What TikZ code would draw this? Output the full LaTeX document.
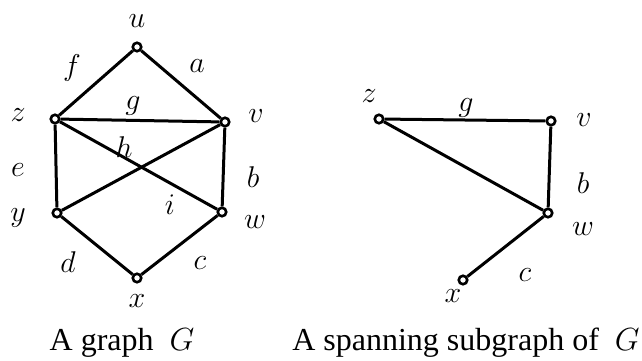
\RequirePackage{fix-cm}
\documentclass[tikz,border=0pt]{standalone}
\usepackage{fontspec}
\setmainfont{Liberation Serif}
\usetikzlibrary{positioning}
\begin{document}
\begin{tikzpicture}[x=1pt, y=-1pt,
        vertex/.style={circle, draw, line width=2.6pt, fill=white, inner sep=0pt, minimum size=8.5pt},
        edge/.style={line width=3pt},
        lbl/.style={inner sep=0pt, font=\fontsize{30}{34}\selectfont},
        caption/.style={inner sep=0pt, font=\fontsize{32}{36}\selectfont}
    ]
        \useasboundingbox (0,0) rectangle (642,361);

        % the graph G
        \node[vertex] (u) at (137,47) {};
        \node[vertex] (z) at (55,119) {};
        \node[vertex] (v) at (225,122) {};
        \node[vertex] (y) at (57,213) {};
        \node[vertex] (w) at (222,212) {};
        \node[vertex] (x) at (137,278) {};

        \foreach \a/\b in {u/z,u/v,z/v,z/y,z/w,v/y,v/w,y/x,w/x} {
            \draw[edge] (\a) -- (\b);
        }

        \node[lbl] (lu) at (137,21) {$u$};
        \node[lbl] (lz) at (18,115) {$z$};
        \node[lbl] (lv) at (256,116) {$v$};
        \node[lbl] (ly) at (18,218) {$y$};
        \node[lbl] (lw) at (255,222) {$w$};
        \node[lbl] (lx) at (137,301) {$x$};

        \node[lbl] (ef) at (72,68) {$f$};
        \node[lbl] (ea) at (197,66) {$a$};
        \node[lbl] (eg) at (133,106) {$g$};
        \node[lbl] (eh) at (124,147) {$h$};
        \node[lbl] (ee) at (18,170) {$e$};
        \node[lbl] (eb) at (253,177) {$b$};
        \node[lbl] (ei) at (170,205) {$i$};
        \node[lbl] (ed) at (68,262) {$d$};
        \node[lbl] (ec) at (200,263) {$c$};

        \node[caption] (capG) at (122,343) {A graph~ $G$};

        % the spanning subgraph
        \node[vertex] (z2) at (379,119) {};
        \node[vertex] (v2) at (551,121) {};
        \node[vertex] (w2) at (548,213) {};
        \node[vertex] (x2) at (463,280) {};

        \foreach \a/\b in {z2/v2,z2/w2,v2/w2,w2/x2} {
            \draw[edge] (\a) -- (\b);
        }

        \node[lbl] (lz2) at (369,96) {$z$};
        \node[lbl] (lv2) at (584,120) {$v$};
        \node[lbl] (lw2) at (583,229) {$w$};
        \node[lbl] (lx2) at (453,296) {$x$};

        \node[lbl] (eg2) at (466,108) {$g$};
        \node[lbl] (eb2) at (583,183) {$b$};
        \node[lbl] (ec2) at (525,275) {$c$};

        \node[caption] (capS) at (466,343) {A spanning subgraph of~ $G$};
    \end{tikzpicture}
\end{document}
